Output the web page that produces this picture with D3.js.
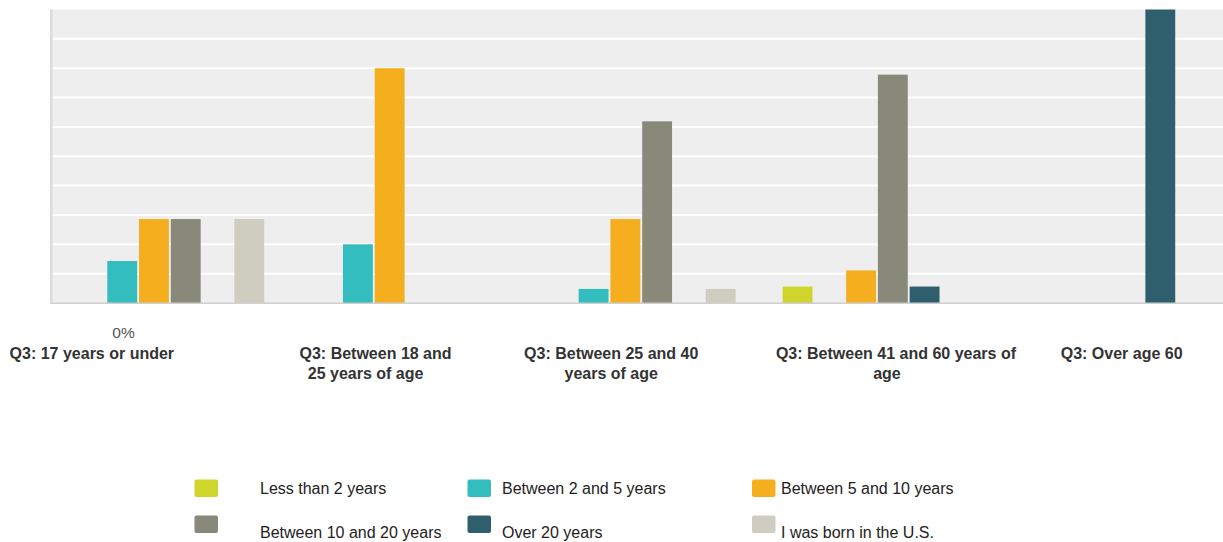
<!DOCTYPE html>
<html>
<head>
<meta charset="utf-8">
<script src="https://cdn.jsdelivr.net/npm/d3@7/dist/d3.min.js"></script>
<style>
  html, body { margin: 0; padding: 0; background: #ffffff; }
  svg { display: block; font-family: "Liberation Sans", Arial, sans-serif; }
</style>
</head>
<body>
<svg id="chart" width="1223" height="542"></svg>
<script>
// Survey answers (Q3, age at arrival) by length of time in the U.S.
const categories = [
  "Q3: 17 years or under",
  "Q3: Between 18 and 25 years of age",
  "Q3: Between 25 and 40 years of age",
  "Q3: Between 41 and 60 years of age",
  "Q3: Over age 60"
];
const categoryLines = [
  ["Q3: 17 years or under"],
  ["Q3: Between 18 and", "25 years of age"],
  ["Q3: Between 25 and 40", "years of age"],
  ["Q3: Between 41 and 60 years of", "age"],
  ["Q3: Over age 60"]
];
const seriesNames = [
  "Less than 2 years",
  "Between 2 and 5 years",
  "Between 5 and 10 years",
  "Between 10 and 20 years",
  "Over 20 years",
  "I was born in the U.S."
];
// percent of respondents, one array per series, aligned with categories
const lessThan2    = [0,    0,    0,    5.6,  0];
const between2and5 = [14.3, 20.0, 4.8,  0,    0];
const between5and10= [28.6, 80.0, 28.6, 11.1, 0];
const between10and20=[28.6, 0,    61.9, 77.8, 0];
const over20       = [0,    0,    0,    5.6,  100];
const bornInUS     = [28.6, 0,    4.8,  0,    0];
const seriesValues = [lessThan2, between2and5, between5and10, between10and20, over20, bornInUS];
const yTicks = [0, 10, 20, 30, 40, 50, 60, 70, 80, 90, 100];
const zeroLabel = "0%";

const colors = ["#d0d52b", "#33bdbf", "#f5ae1e", "#888979", "#2f5f6d", "#cecdbf"];

const svg = d3.select("#chart");
const plot = { left: 52, top: 9.5, bottom: 303, bandWidth: 235.7 };

const x0 = d3.scaleBand()
  .domain(categories)
  .range([plot.left, plot.left + plot.bandWidth * categories.length])
  .padding(0);
const x1 = d3.scaleBand()
  .domain(seriesNames)
  .range([0, x0.bandwidth()])
  .paddingInner(0.06)
  .paddingOuter(0.74);
const y = d3.scaleLinear().domain([0, 100]).range([plot.bottom, plot.top]);

// plot background
svg.append("rect")
  .attr("x", plot.left).attr("y", plot.top)
  .attr("width", 1223 - plot.left).attr("height", plot.bottom - plot.top)
  .attr("fill", "#eeeeee");

// horizontal gridlines
svg.append("g")
  .selectAll("line")
  .data(yTicks.filter(t => t > 0 && t < 100))
  .join("line")
  .attr("x1", plot.left).attr("x2", 1223)
  .attr("y1", d => y(d)).attr("y2", d => y(d))
  .attr("stroke", "#ffffff").attr("stroke-width", 2);

// left edge of the plot
svg.append("rect")
  .attr("x", 50).attr("y", plot.top)
  .attr("width", 2.5).attr("height", plot.bottom - plot.top + 1)
  .attr("fill", "#dcdcdc");

// bars
const groups = svg.append("g")
  .selectAll("g")
  .data(categories)
  .join("g")
  .attr("transform", d => `translate(${x0(d)},0)`);

groups.selectAll("rect")
  .data((c, ci) => seriesNames.map((s, si) => ({ s, si, v: seriesValues[si][ci] })))
  .join("rect")
  .attr("x", d => x1(d.s))
  .attr("width", x1.bandwidth())
  .attr("y", d => y(d.v))
  .attr("height", d => y(0) - y(d.v))
  .attr("fill", d => colors[d.si]);

// baseline
svg.append("rect")
  .attr("x", 51).attr("y", plot.bottom - 0.5)
  .attr("width", 1223 - 51).attr("height", 1.5)
  .attr("fill", "#cfcfcf");

// lone axis value label
svg.append("text")
  .attr("x", 123.5).attr("y", 338)
  .attr("text-anchor", "middle")
  .attr("font-size", 15.5)
  .attr("fill", "#555555")
  .text(zeroLabel);

// category labels (per-line horizontal offsets from the band centre)
const labelShift = [[-78], [-30, -40], [-30, -30], [19, 10], [9]];
categoryLines.forEach((lines, ci) => {
  const cx = x0(categories[ci]) + x0.bandwidth() / 2;
  lines.forEach((ln, li) => {
    svg.append("text")
      .attr("x", cx + labelShift[ci][li])
      .attr("y", 359 + li * 20)
      .attr("text-anchor", "middle")
      .attr("font-size", 16)
      .attr("font-weight", "bold")
      .attr("fill", "#333333")
      .text(ln);
  });
});

// legend
const legendCols = [
  { sx: 194.5, tx: 260 },
  { sx: 467.5, tx: 502 },
  { sx: 752,   tx: 781 }
];
const legendRows = [
  { sy: 479.5, ty: 493.5 },
  { sy: 515.5, ty: 537.5 }
];
const legend = svg.append("g");
seriesNames.forEach((name, i) => {
  const col = legendCols[i % 3];
  const row = legendRows[Math.floor(i / 3)];
  legend.append("rect")
    .attr("x", col.sx).attr("y", row.sy)
    .attr("width", 23.5).attr("height", 17.5)
    .attr("rx", 2).attr("ry", 2)
    .attr("fill", colors[i]);
  legend.append("text")
    .attr("x", col.tx).attr("y", row.ty)
    .attr("font-size", 16)
    .attr("fill", "#222222")
    .text(name);
});
</script>
</body>
</html>
